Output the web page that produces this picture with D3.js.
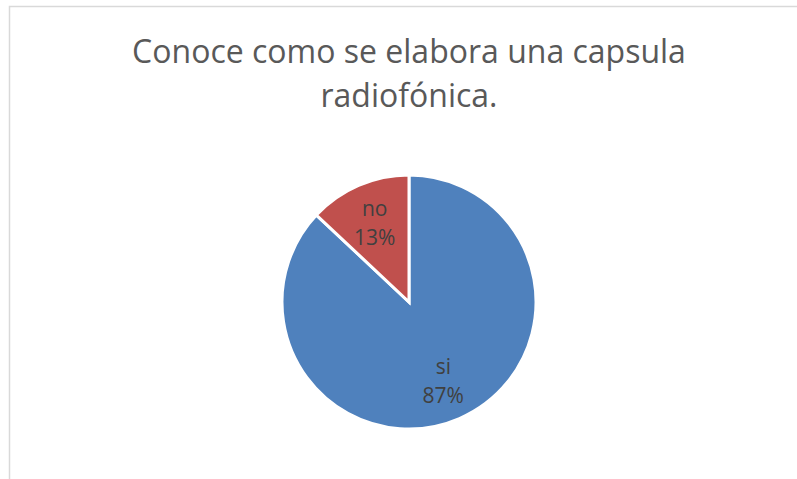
<!DOCTYPE html>
<html>
<head>
<meta charset="utf-8">
<script src="https://cdn.jsdelivr.net/npm/d3@7"></script>
<style>
  body { margin: 0; background: #fff; }
  svg { display: block; }
</style>
</head>
<body>
<div class="chart"></div>
<script>
// chart data
var categories = ["si", "no"]
var values = [87, 13]
var colors = ["#4F81BD", "#C0504D"]
var titleLines = ["Conoce como se elabora una capsula", "radiofónica."]

var w = 797
var h = 479
var cx = 409
var cy = 302
var r = 127

var svg = d3.select(".chart")
            .append("svg")
            .attr("width", w)
            .attr("height", h)

// chart area border (runs off the right and bottom)
svg.append("rect")
   .attr("x", 9.5)
   .attr("y", 6.5)
   .attr("width", w + 10)
   .attr("height", h + 10)
   .attr("fill", "#fff")
   .attr("stroke", "#d9d9d9")
   .attr("stroke-width", 1.5)

// title
svg.append("text")
   .attr("x", cx)
   .attr("y", 63)
   .attr("text-anchor", "middle")
   .style("font-family", "'Open Sans', sans-serif")
   .style("font-size", "32px")
   .style("fill", "#595959")
   .selectAll("tspan")
   .data(titleLines)
   .enter()
   .append("tspan")
   .attr("x", cx)
   .attr("dy", function(d, i) { return i == 0 ? 0 : 44 })
   .text(function(d) { return d })

var data = categories.map(function(c, i) {
    return {name: c, value: values[i], color: colors[i]}
})

var total = d3.sum(values)

var pie = d3.pie()
            .sort(null)
            .value(function(d) { return d.value })

var arc = d3.arc()
            .innerRadius(0)
            .outerRadius(r)

var labelArc = d3.arc()
            .innerRadius(r * 0.68)
            .outerRadius(r * 0.68)

var g = svg.append("g")
           .attr("transform", "translate(" + cx + "," + cy + ")")

g.selectAll("path")
 .data(pie(data))
 .enter()
 .append("path")
 .attr("d", arc)
 .attr("fill", function(d) { return d.data.color })
 .attr("stroke", "#fff")
 .attr("stroke-width", 3)
 .attr("stroke-linejoin", "miter")

// labels: category and percent
var labels = g.selectAll(".lbl")
 .data(pie(data))
 .enter()
 .append("text")
 .attr("class", "lbl")
 .attr("transform", function(d) {
     var c = labelArc.centroid(d)
     return "translate(" + c[0] + "," + c[1] + ")"
 })
 .attr("text-anchor", "middle")
 .style("font-family", "'Open Sans', sans-serif")
 .style("font-size", "21px")
 .style("fill", "#404040")

labels.append("tspan")
 .attr("x", 0)
 .attr("dy", -7)
 .text(function(d) { return d.data.name })

labels.append("tspan")
 .attr("x", 0)
 .attr("dy", 29)
 .text(function(d) { return Math.round(d.data.value / total * 100) + "%" })
</script>
</body>
</html>
